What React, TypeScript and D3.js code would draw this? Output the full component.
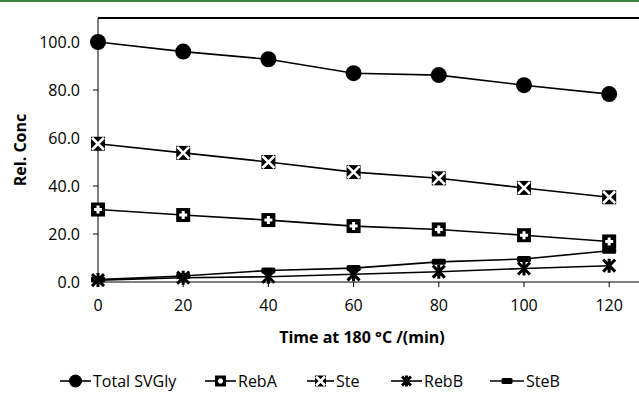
import { useEffect, useRef } from 'react';
import * as d3 from 'd3';

const times = [0, 20, 40, 60, 80, 100, 120];
const totalSvgly = [100, 96, 92.8, 87, 86.2, 82, 78.3];
const rebA = [30.2, 27.9, 25.8, 23.3, 21.9, 19.5, 16.9];
const ste = [57.6, 53.8, 50, 45.8, 43.2, 39.2, 35.3];
const rebB = [0.8, 1.8, 2.2, 3.2, 4.3, 5.6, 6.8];
const steB = [1, 2.5, 4.8, 5.8, 8.4, 9.6, 13];
const yTicks = [0, 20, 40, 60, 80, 100];
const xTicks = [0, 20, 40, 60, 80, 100, 120];

type MarkerKind = 'circle' | 'plus' | 'xbox' | 'star' | 'dash';

const seriesList: { name: string; values: number[]; marker: MarkerKind }[] = [
    { name: 'Total SVGly', values: totalSvgly, marker: 'circle' },
    { name: 'RebA', values: rebA, marker: 'plus' },
    { name: 'Ste', values: ste, marker: 'xbox' },
    { name: 'RebB', values: rebB, marker: 'star' },
    { name: 'SteB', values: steB, marker: 'dash' },
];

const FONT = '"Open Sans", sans-serif';

function drawMarker(g: d3.Selection<SVGGElement, unknown, null, undefined>, kind: MarkerKind, x: number, y: number, s: number) {
    const m = g.append('g').attr('transform', `translate(${x},${y})`);
    const h = s / 2;
    if (kind === 'circle') {
        m.append('circle').attr('r', h + 1).attr('fill', '#000');
    } else if (kind === 'plus') {
        m.append('rect').attr('x', -h).attr('y', -h).attr('width', s).attr('height', s).attr('fill', '#000');
        m.append('path').attr('d', `M${-h + 3},0H${h - 3}M0,${-h + 3}V${h - 3}`)
            .attr('stroke', '#fff').attr('stroke-width', 3);
    } else if (kind === 'xbox') {
        m.append('rect').attr('x', -h).attr('y', -h).attr('width', s).attr('height', s).attr('fill', '#000');
        m.append('path').attr('d', `M${-h + 1},${-h + 1}L${h - 1},${h - 1}M${h - 1},${-h + 1}L${-h + 1},${h - 1}`)
            .attr('stroke', '#fff').attr('stroke-width', 2.6);
    } else if (kind === 'star') {
        m.append('path').attr('d', `M${-h + 1},${-h + 1}L${h - 1},${h - 1}M${h - 1},${-h + 1}L${-h + 1},${h - 1}M0,${-h}V${h}`)
            .attr('stroke', '#000').attr('stroke-width', 3);
    } else {
        m.append('rect').attr('x', -h).attr('y', -3).attr('width', s).attr('height', 6).attr('rx', 1.5).attr('fill', '#000');
    }
}

export default function App() {
    const ref = useRef<SVGSVGElement>(null);

    useEffect(() => {
        if (!ref.current) return;
        const svg = d3.select(ref.current);
        svg.selectAll('*').remove();

        const width = 639;
        const height = 399;
        const left = 98;
        const top = 18;
        const bottom = 282;

        const x = d3.scaleLinear().domain([0, 127]).range([left, width]);
        const y = d3.scaleLinear().domain([0, 110]).range([bottom, top]);

        svg.attr('width', width).attr('height', height);
        svg.append('rect').attr('width', width).attr('height', height).attr('fill', '#fff');

        // green rule at top
        svg.append('line').attr('x1', 0).attr('x2', width).attr('y1', 1).attr('y2', 1)
            .attr('stroke', '#3b8040').attr('stroke-width', 2);

        const g = svg.append('g');

        // frame: top border, y axis, x axis
        g.append('line').attr('x1', left).attr('x2', width).attr('y1', y(110)).attr('y2', y(110))
            .attr('stroke', '#000').attr('stroke-width', 2);
        g.append('line').attr('x1', left).attr('x2', left).attr('y1', y(110)).attr('y2', bottom)
            .attr('stroke', '#000').attr('stroke-width', 1);
        g.append('line').attr('x1', left).attr('x2', width).attr('y1', bottom).attr('y2', bottom)
            .attr('stroke', '#000').attr('stroke-width', 1);

        // y ticks
        yTicks.forEach((t) => {
            g.append('line').attr('x1', left - 5).attr('x2', left).attr('y1', y(t)).attr('y2', y(t))
                .attr('stroke', '#000');
            g.append('text').attr('x', left - 18).attr('y', y(t)).attr('dy', '0.36em')
                .attr('text-anchor', 'end').attr('font-family', FONT).attr('font-size', 16)
                .attr('fill', '#000').text(d3.format('.1f')(t));
        });

        // x ticks
        xTicks.forEach((t) => {
            g.append('line').attr('x1', x(t)).attr('x2', x(t)).attr('y1', bottom).attr('y2', bottom + 5)
                .attr('stroke', '#000');
            g.append('text').attr('x', x(t)).attr('y', 311)
                .attr('text-anchor', 'middle').attr('font-family', FONT).attr('font-size', 16)
                .attr('fill', '#000').text(t);
        });

        // axis titles
        g.append('text').attr('x', 362).attr('y', 343).attr('text-anchor', 'middle')
            .attr('font-family', FONT).attr('font-size', 16).attr('font-weight', 700)
            .text('Time at 180 °C /(min)');
        g.append('text').attr('transform', `translate(26,${(top + bottom) / 2}) rotate(-90)`)
            .attr('text-anchor', 'middle').attr('font-family', FONT).attr('font-size', 16)
            .attr('font-weight', 700).text('Rel. Conc');

        // series
        const line = d3.line<number>().x((_, i) => x(times[i])).y((d) => y(d));
        seriesList.forEach((s) => {
            g.append('path').attr('d', line(s.values) as string).attr('fill', 'none')
                .attr('stroke', '#000').attr('stroke-width', 1.6);
        });
        seriesList.forEach((s) => {
            s.values.forEach((v, i) => drawMarker(g, s.marker, x(times[i]), y(v), 14));
        });

        // legend
        const legendY = 381;
        const legendX = [60, 205, 307, 391, 490];
        seriesList.forEach((s, i) => {
            const lx = legendX[i];
            const lw = s.marker === 'dash' ? 34 : s.marker === 'xbox' ? 27 : 31;
            g.append('line').attr('x1', lx).attr('x2', lx + lw).attr('y1', legendY).attr('y2', legendY)
                .attr('stroke', '#000').attr('stroke-width', 1.6);
            drawMarker(g, s.marker, lx + lw / 2, legendY, 11);
            g.append('text').attr('x', lx + lw + 2).attr('y', legendY).attr('dy', '0.36em')
                .attr('font-family', FONT).attr('font-size', 16).attr('fill', '#000').text(s.name);
        });
    }, []);

    return (
        <div style={{ position: 'fixed', left: 0, top: 0 }}>
            <svg ref={ref} style={{ display: 'block' }} />
        </div>
    );
}
